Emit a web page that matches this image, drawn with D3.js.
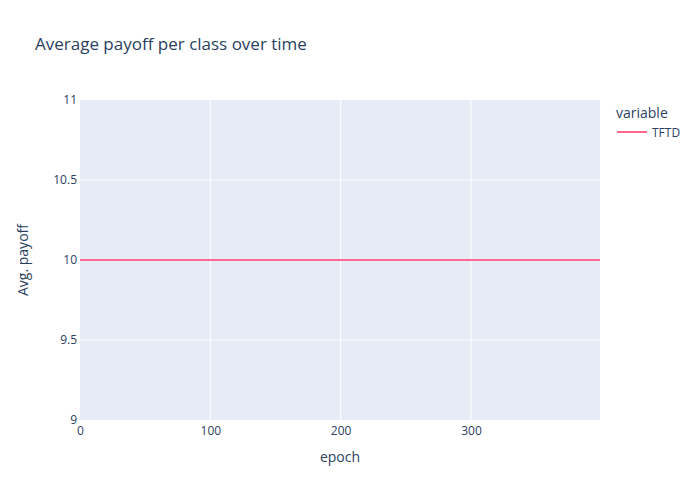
<!DOCTYPE html>
<html><head><meta charset="utf-8">
<script src="https://cdn.jsdelivr.net/npm/d3@7"></script>
<style>body{margin:0;background:#fff}svg{display:block}text{font-family:"Open Sans",verdana,arial,sans-serif;fill:#2a3f5f}</style>
</head><body><svg id="c" width="700" height="500"></svg>
<script>
const epochs = [0, 100, 200, 300, 399];
const tftd = [10, 10, 10, 10, 10];
const xTicks = [0, 100, 200, 300];
const yTicks = [9, 9.5, 10, 10.5, 11];
const seriesName = "TFTD";

const svg = d3.select("#c");
const m = {l:80, r:100, t:100, b:80};
const W = 700, H = 500;
const x = d3.scaleLinear().domain([0, 399]).range([m.l, W - m.r]);
const y = d3.scaleLinear().domain([9, 11]).range([H - m.b, m.t]);

svg.append("rect").attr("x", m.l).attr("y", m.t).attr("width", W-m.l-m.r).attr("height", H-m.t-m.b).attr("fill", "#E5ECF6");

const gx = svg.append("g").attr("transform", `translate(0,${H-m.b})`)
  .call(d3.axisBottom(x).tickValues(xTicks).tickSize(0).tickPadding(6));
gx.select(".domain").remove();
gx.selectAll("text").style("font-size","12px").attr("fill","#2a3f5f").style("font-family",'"Open Sans",verdana,arial,sans-serif');

const gy = svg.append("g").attr("transform", `translate(${m.l},0)`)
  .call(d3.axisLeft(y).tickValues(yTicks).tickSize(0).tickPadding(3).tickFormat(d3.format("~g")));
gy.select(".domain").remove();
gy.selectAll("text").style("font-size","12px").attr("fill","#2a3f5f").style("font-family",'"Open Sans",verdana,arial,sans-serif');

svg.append("g").selectAll("line").data(xTicks.filter(d=>d>0)).join("line")
  .attr("x1", d=>x(d)).attr("x2", d=>x(d)).attr("y1", m.t).attr("y2", H-m.b)
  .attr("stroke","#fff").attr("stroke-width",1);
svg.append("g").selectAll("line").data(yTicks.filter(d=>d>9 && d<11)).join("line")
  .attr("y1", d=>y(d)).attr("y2", d=>y(d)).attr("x1", m.l).attr("x2", W-m.r)
  .attr("stroke","#fff").attr("stroke-width",1);

const line = d3.line().x((d,i)=>x(epochs[i])).y(d=>y(d));
svg.append("path").datum(tftd).attr("d", line).attr("fill","none").attr("stroke","#FF6692").attr("stroke-width",2);

svg.append("text").attr("x",35).attr("y",50).style("font-size","17px").text("Average payoff per class over time");
svg.append("text").attr("x",(m.l+W-m.r)/2).attr("y",462).attr("text-anchor","middle").style("font-size","14px").text("epoch");
svg.append("text").attr("transform",`translate(28,${(m.t+H-m.b)/2}) rotate(-90)`).attr("text-anchor","middle").style("font-size","14px").text("Avg. payoff");

svg.append("text").attr("x",616).attr("y",118).style("font-size","14px").text("variable");
svg.append("line").attr("x1",617).attr("x2",647).attr("y1",132).attr("y2",132).attr("stroke","#FF6692").attr("stroke-width",2);
svg.append("text").attr("x",652).attr("y",136.5).style("font-size","12px").text(seriesName);
</script></body></html>
